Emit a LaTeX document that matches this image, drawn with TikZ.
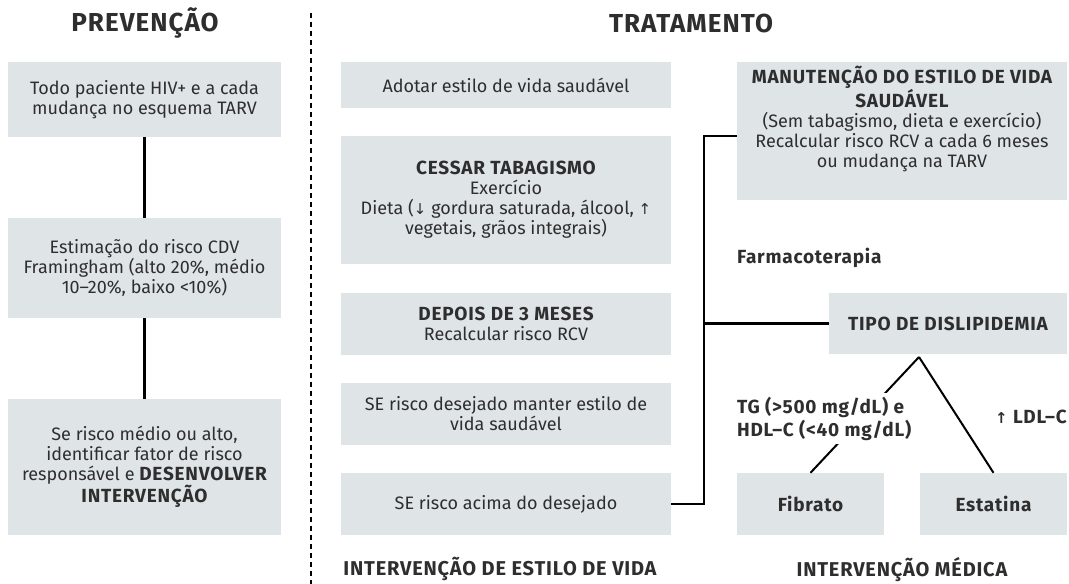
\documentclass[tikz,border=0pt]{standalone}
\usepackage{fontspec}
\setmainfont{Fira Sans}[BoldFeatures={LetterSpace=4}]
\newfontfamily\setafont{DejaVu Sans}
\definecolor{caixa}{HTML}{DFE5E7}
\definecolor{texto}{HTML}{2E2E2E}
\tikzset{
  caixa/.style={fill=caixa, text=texto, align=center, inner sep=0pt, font=\fontsize{18}{20}\selectfont},
  titulo/.style={text=texto, inner sep=0pt, font=\bfseries\fontsize{26}{28}\selectfont\addfontfeatures{LetterSpace=10}},
  rodape/.style={text=texto, inner sep=0pt, font=\bfseries\fontsize{20}{22}\selectfont\addfontfeatures{LetterSpace=6}},
  rotulo/.style={text=texto, inner sep=0pt, align=left, font=\bfseries\fontsize{19}{23}\selectfont},
  ligacao/.style={line width=2.5pt},
}
\newcommand{\negr}[1]{{\bfseries\fontsize{19}{20}\selectfont #1}}
\newcommand{\seta}[1]{{\setafont\fontsize{15}{15}\selectfont #1}}
\begin{document}
\begin{tikzpicture}[x=1pt, y=-1pt]%1px = 1pt
  \useasboundingbox (0,0) rectangle (1069,584);
  % PREVENÇÃO
  \node[titulo] (prev) at (145,23) {PREVENÇÃO};
  \node[caixa, minimum width=273, minimum height=75] (p1) at (144.5,99.5)
    {Todo paciente HIV+ e a cada\\mudança no esquema TARV};
  \node[caixa, minimum width=273, minimum height=100] (p2) at (144.5,268)
    {Estimação do risco CDV\\Framingham (alto 20\%, médio\\10–20\%, baixo <10\%)};
  \node[caixa, minimum width=273, minimum height=136] (p3) at (144.5,467)
    {Se risco médio ou alto,\\identificar fator de risco\\responsável e \negr{DESENVOLVER}\\\negr{INTERVENÇÃO}};
  \draw[line width=3pt] (p1.south) -- (p2.north);
  \draw[line width=3pt] (p2.south) -- (p3.north);
  \draw[line width=2.2pt, dash pattern=on 5pt off 4pt] (311,13) -- (311,584);%divisória
  % TRATAMENTO
  \node[titulo] (trat) at (691,23) {TRATAMENTO};
  \node[caixa, minimum width=330, minimum height=46] (t1) at (506,85)
    {Adotar estilo de vida saudável};
  \node[caixa, minimum width=330, minimum height=128] (t2) at (506,200)
    {\negr{CESSAR TABAGISMO}\\Exercício\\Dieta (\seta{↓} gordura saturada, álcool, \seta{↑}\\vegetais, grãos integrais)};
  \node[caixa, minimum width=330, minimum height=62] (t3) at (506,324)
    {\negr{DEPOIS DE 3 MESES}\\Recalcular risco RCV};
  \node[caixa, minimum width=330, minimum height=62] (t4) at (506,414)
    {SE risco desejado manter estilo de\\vida saudável};
  \node[caixa, minimum width=330, minimum height=62] (t5) at (506,504)
    {SE risco acima do desejado};
  \node[rodape] (estilo) at (500,569) {INTERVENÇÃO DE ESTILO DE VIDA};
  % intervenção médica
  \node[caixa, minimum width=330, minimum height=138] (m1) at (902,131) {};
  \node[caixa, fill=none] (m1txt) at (902,119)
    {\negr{MANUTENÇÃO DO ESTILO DE VIDA}\\\negr{SAUDÁVEL}\\(Sem tabagismo, dieta e exercício)\\Recalcular risco RCV a cada 6 meses\\ou mudança na TARV};
  \node[rotulo, anchor=west] (farm) at (737,258) {Farmacoterapia};
  \node[caixa, minimum width=238, minimum height=61] (tipo) at (948,323.5) {\negr{TIPO DE DISLIPIDEMIA}};
  \node[caixa, minimum width=147, minimum height=62] (fib) at (810.5,504) {\negr{Fibrato}};
  \node[caixa, minimum width=147, minimum height=62] (est) at (993.5,504) {\negr{Estatina}};
  \coordinate (topo) at (919,357);
  \coordinate (barra) at (704,0);
  \draw[ligacao] (t5.east) -- (t5.east -| barra) |- ([yshift=-5pt]m1.west);
  \draw[ligacao] (tipo.west) -- (tipo.west -| barra);
  \draw[line width=2pt] (topo) -- (fib.north);
  \draw[line width=2pt] (topo) -- (est.north);
  \node[rotulo, fill=white, inner sep=4pt, anchor=west] (tg) at (733,418.5)
    {TG (>500 mg/dL) e\\HDL–C (<40 mg/dL)};
  \node[rotulo, anchor=east] (ldl) at (1067,417) {\seta{↑} LDL–C};
  \node[rodape] (medica) at (902,570) {INTERVENÇÃO MÉDICA};
\end{tikzpicture}
\end{document}
